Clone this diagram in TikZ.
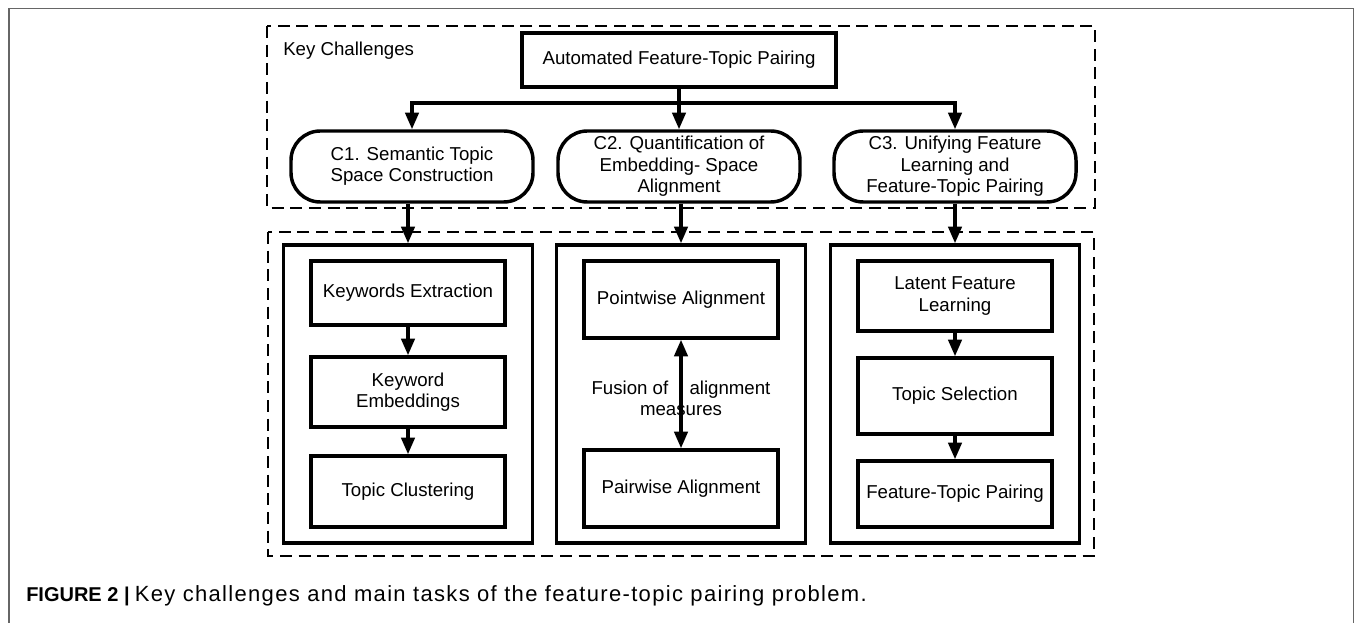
\documentclass[tikz,border=0pt]{standalone}
\usepackage{fontspec}
\setmainfont{Liberation Sans}
\newfontfamily\capfont[LetterSpace=6]{Liberation Sans}
\usetikzlibrary{arrows.meta,calc}
\begin{document}
\begin{tikzpicture}[x=0.75pt,y=-0.75pt,
  every node/.style={font=\fontsize{14}{16}\selectfont, align=center, inner sep=0pt},
  box/.style={draw, line width=2.6pt, minimum width=145.5pt},
  panel/.style={draw, line width=2.6pt, minimum width=186.75pt, minimum height=223.5pt},
  pill/.style={draw, line width=2.6pt, rounded corners=22pt, minimum width=181.5pt, minimum height=53.25pt},
  dashbox/.style={draw, line width=2pt, dash pattern=on 9pt off 5pt},
  conn/.style={line width=2.6pt, line cap=rect},
  arr/.style={line width=2.6pt, -{Triangle[length=12.5pt,width=10pt]}},
  darr/.style={line width=2.6pt, {Triangle[length=12.5pt,width=10pt]}-{Triangle[length=12.5pt,width=10pt]}},
  frame/.style={draw=black!60, line width=1.2pt}
]
\useasboundingbox (0,0) rectangle (1355,623);
\draw[frame] (9,623) -- (9,8.5) -- (1353.5,8.5) -- (1353.5,623);

% dashed regions
\draw[dashbox] (267,26) rectangle (1095,208);
\draw[dashbox] (268,232) rectangle (1094,556);

\node[anchor=west] (kc) at (283,51) {Key Challenges};
\node[box, minimum width=235.5pt, minimum height=40.5pt] (auto) at (679,60) {Automated Feature-Topic Pairing};

\node[pill] (c1) at (412,166.5) {C1. Semantic Topic\\Space Construction};
\node[pill] (c2) at (679,166.5) {C2. Quantification of\\Embedding- Space\\Alignment};
\node[pill] (c3) at (955,166.5) {C3. Unifying Feature\\Learning and\\Feature-Topic Pairing};

\node[panel] (p1) at (408,394) {};
\node[panel] (p2) at (681,394) {};
\node[panel] (p3) at (955,394) {};

\node[box, minimum height=48pt] (k1) at (408,293) {Keywords Extraction};
\node[box, minimum height=52.5pt] (k2) at (408,392) {Keyword\\Embeddings};
\node[box, minimum height=53.25pt] (k3) at (408,491.5) {Topic Clustering};

\node[box, minimum height=57.75pt] (pw) at (681,299.5) {Pointwise Alignment};
\node[box, minimum height=57.75pt] (pa) at (681,488.5) {Pairwise Alignment};
\node (fu) at (681,398) {Fusion of\hspace{12pt} alignment\\measures};

\node[box, minimum height=52.5pt] (l1) at (955,296) {Latent Feature\\Learning};
\node[box, minimum height=57pt] (l2) at (955,396) {Topic Selection};
\node[box, minimum height=49.5pt] (l3) at (955,494) {Feature-Topic Pairing};

% connectors
\coordinate (j) at (0,103);
\draw[conn] (c1.north |- j) -- (c3.north |- j);
\draw[arr] (c1.north |- j) -- (c1.north);
\draw[arr] (c3.north |- j) -- (c3.north);
\draw[arr] (auto) -- (c2);
\draw[arr] (c1.south -| p1.north) -- (p1.north);
\draw[arr] (c2.south -| p2.north) -- (p2.north);
\draw[arr] (c3) -- (p3);
\draw[arr] (k1) -- (k2);
\draw[arr] (k2) -- (k3);
\draw[arr] (l1) -- (l2);
\draw[arr] (l2) -- (l3);
\draw[darr] (pw) -- (pa);

\node[anchor=base west] (cap) at (26,601) {{\fontsize{15}{17}\selectfont\bfseries FIGURE 2 |} {\capfont\fontsize{16.5}{18}\selectfont Key challenges and main tasks of the feature-topic pairing problem.}};
\end{tikzpicture}
\end{document}
